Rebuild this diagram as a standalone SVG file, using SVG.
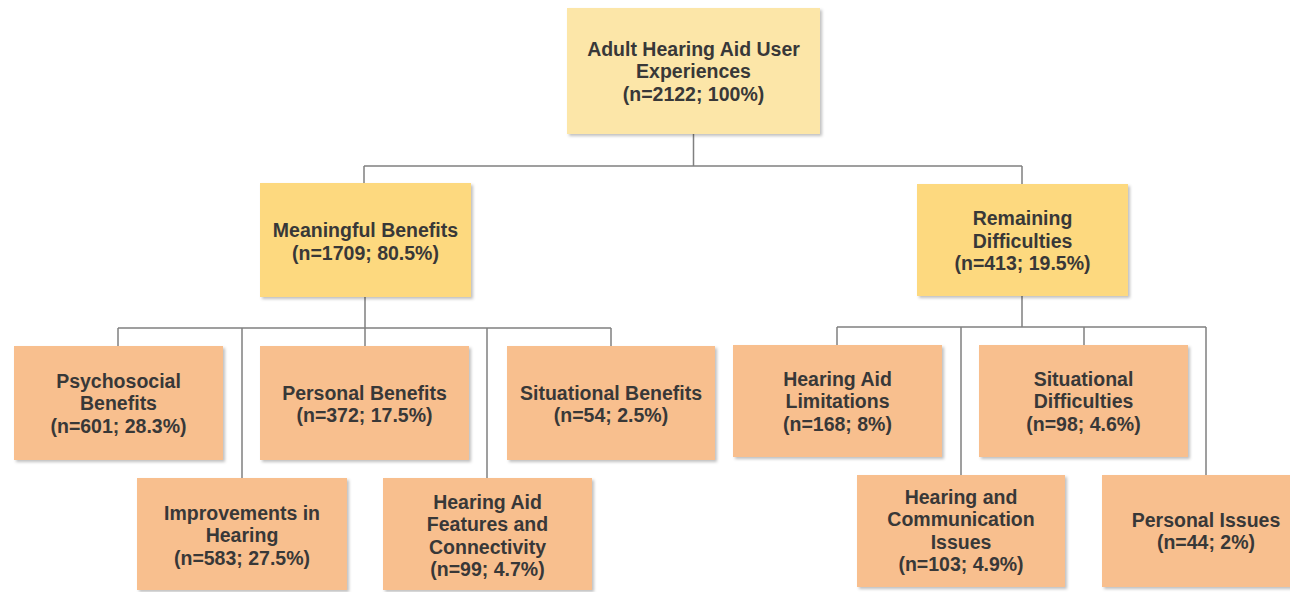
<svg xmlns="http://www.w3.org/2000/svg" width="1290" height="592" viewBox="0 0 1290 592">
<defs>
<filter id="sh" x="-5%" y="-5%" width="115%" height="115%">
<feDropShadow dx="2" dy="2" stdDeviation="1.5" flood-color="#000" flood-opacity="0.25"/>
</filter>
<style>
.l1{fill:#FCE6A8;filter:url(#sh)}
.l2{fill:#FDD97F;filter:url(#sh)}
.l3{fill:#F8BF8E;filter:url(#sh)}
text{font-family:"Liberation Sans",Arial,sans-serif;font-weight:bold;font-size:19.5px;fill:#383838;text-anchor:middle}
.c{fill:none;stroke:#808080;stroke-width:1.5}
</style>
</defs>
<rect width="1290" height="592" fill="#fff"/>
<g id="connectors" class="c">
<path d="M693.5 134V166M364 166H1022M364 166V183M1022 166V184"/>
<path d="M365 297V328M118 328H611M118 328V346M242 328V478M365 328V346M487 328V478M611 328V346"/>
<path d="M1022 296V327M837 327H1206M837 327V345M961 327V475M1084 327V345M1206 327V475"/>
</g>
<g id="root">
<rect class="l1" x="567" y="8" width="253" height="126"/>
<text x="693.5" y="56">Adult Hearing Aid User</text>
<text x="693.5" y="78.3">Experiences</text>
<text x="693.5" y="100.6">(n=2122; 100%)</text>
</g>
<g id="meaningful">
<rect class="l2" x="260" y="183" width="211" height="114"/>
<text x="365.5" y="237">Meaningful Benefits</text>
<text x="365.5" y="259.5">(n=1709; 80.5%)</text>
</g>
<g id="remaining">
<rect class="l2" x="917" y="184" width="211" height="112"/>
<text x="1022.5" y="225">Remaining</text>
<text x="1022.5" y="247.5">Difficulties</text>
<text x="1022.5" y="270">(n=413; 19.5%)</text>
</g>
<g id="psychosocial">
<rect class="l3" x="14" y="346" width="209" height="114"/>
<text x="118.5" y="388">Psychosocial</text>
<text x="118.5" y="410.3">Benefits</text>
<text x="118.5" y="432.6">(n=601; 28.3%)</text>
</g>
<g id="personal-benefits">
<rect class="l3" x="260" y="346" width="209" height="114"/>
<text x="364.5" y="400">Personal Benefits</text>
<text x="364.5" y="422">(n=372; 17.5%)</text>
</g>
<g id="situational-benefits">
<rect class="l3" x="507" y="346" width="208" height="114"/>
<text x="611" y="400">Situational Benefits</text>
<text x="611" y="422">(n=54; 2.5%)</text>
</g>
<g id="improvements">
<rect class="l3" x="137" y="478" width="210" height="112"/>
<text x="242" y="520">Improvements in</text>
<text x="242" y="542.3">Hearing</text>
<text x="242" y="564.6">(n=583; 27.5%)</text>
</g>
<g id="features">
<rect class="l3" x="383" y="478" width="209" height="112"/>
<text x="487.5" y="509">Hearing Aid</text>
<text x="487.5" y="531.3">Features and</text>
<text x="487.5" y="553.6">Connectivity</text>
<text x="487.5" y="575.9">(n=99; 4.7%)</text>
</g>
<g id="limitations">
<rect class="l3" x="733" y="345" width="209" height="112"/>
<text x="837.5" y="386">Hearing Aid</text>
<text x="837.5" y="408.3">Limitations</text>
<text x="837.5" y="430.6">(n=168; 8%)</text>
</g>
<g id="situational-difficulties">
<rect class="l3" x="979" y="345" width="209" height="112"/>
<text x="1083.5" y="386">Situational</text>
<text x="1083.5" y="408.3">Difficulties</text>
<text x="1083.5" y="430.6">(n=98; 4.6%)</text>
</g>
<g id="communication">
<rect class="l3" x="857" y="475" width="208" height="112"/>
<text x="961" y="504">Hearing and</text>
<text x="961" y="526.3">Communication</text>
<text x="961" y="548.6">Issues</text>
<text x="961" y="570.9">(n=103; 4.9%)</text>
</g>
<g id="personal-issues">
<rect class="l3" x="1102" y="475" width="209" height="112"/>
<text x="1206" y="527">Personal Issues</text>
<text x="1206" y="549.3">(n=44; 2%)</text>
</g>
</svg>
